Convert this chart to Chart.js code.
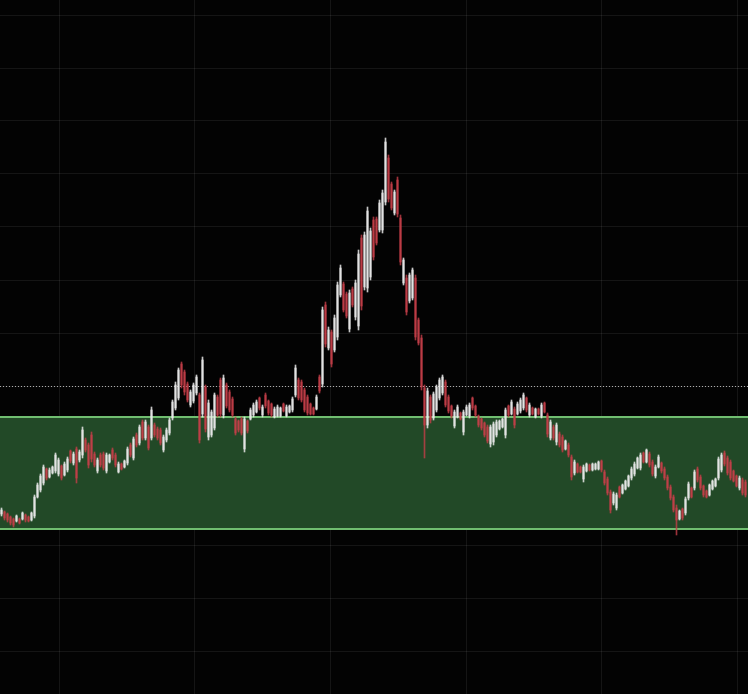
<!DOCTYPE html>
<html>
<head>
<meta charset="utf-8">
<script src="https://cdn.jsdelivr.net/npm/chart.js@4"></script>
<style>
  html, body { margin: 0; padding: 0; background: #030303; }
  #wrap { width: 748px; height: 694px; position: relative; }
</style>
</head>
<body>
<div id="wrap"><canvas id="c" width="748" height="694"></canvas></div>
<script>
// ---- data (price units) ----
const opens = [186,188,186,183,181,179,181,181,185,183,180,184,203,210,217,231,223,227,229,226,234,225,230,249,237,251,240,245,260,255,265,246,229,245,246,229,238,250,245,228,236,233,237,255,242,265,257,278,262,273,262,275,271,270,250,260,267,282,292,302,336,328,316,295,299,307,305,286,313,263,265,272,303,320,285,315,308,301,281,279,281,251,279,281,285,288,302,285,305,299,296,283,284,284,296,284,288,290,305,320,318,310,303,296,292,291,323,316,395,352,368,350,363,405,416,406,371,411,383,374,462,413,412,423,480,481,470,470,498,542,516,487,520,482,417,422,399,402,422,380,362,312,275,303,282,290,302,307,318,303,294,274,283,287,268,285,284,302,294,284,281,277,273,256,258,265,271,273,265,294,286,291,286,289,292,302,285,292,283,291,284,297,285,262,273,258,266,263,251,255,243,227,236,233,221,229,235,230,231,231,239,228,221,208,197,192,213,207,211,214,222,226,232,232,247,238,246,238,224,233,237,231,223,213,203,192,181,191,187,202,212,212,231,223,214,209,205,211,214,222,230,247,242,238,229,224,212,220,218];
const highs = [192,189,187,184,182,185,182,188,186,184,188,205,217,226,235,232,232,234,247,242,235,238,243,250,248,253,250,273,262,257,268,248,242,247,248,247,246,252,247,238,237,240,253,257,263,267,275,280,280,275,293,277,273,272,265,272,282,300,318,332,338,330,318,310,317,325,307,343,315,300,290,307,305,322,325,317,310,303,283,280,283,283,280,292,297,300,303,295,307,300,297,293,295,293,297,295,295,303,335,322,320,312,305,297,293,305,325,393,398,373,370,385,418,435,418,408,410,413,420,450,465,468,493,472,483,483,500,510,562,545,518,510,523,485,442,425,427,432,425,382,365,315,312,305,308,315,322,325,320,305,295,290,295,288,290,295,297,303,295,285,282,278,275,275,278,280,280,282,292,295,300,293,298,302,307,303,297,293,292,292,297,298,287,280,275,277,268,265,260,257,245,240,237,234,235,237,236,237,237,239,240,230,223,210,208,207,214,216,220,225,233,238,243,247,248,251,248,240,235,245,238,233,225,215,205,195,190,192,203,218,213,230,233,225,215,210,216,220,222,243,247,249,244,240,230,225,224,222,220];
const lows = [184,180,178,175,173,178,176,180,178,178,179,182,202,208,215,220,222,226,227,224,220,224,228,237,235,217,238,242,248,232,238,233,227,233,230,227,237,240,233,227,230,232,235,243,240,253,255,260,260,250,260,263,260,255,248,258,265,280,290,300,312,305,298,293,297,305,257,283,268,260,263,270,283,283,282,292,288,283,265,268,265,248,267,280,283,287,290,283,292,285,283,282,283,283,288,283,287,288,303,300,298,288,285,285,285,290,307,313,353,350,333,348,360,403,388,382,368,393,380,370,390,410,408,420,440,455,468,467,495,498,490,485,483,435,415,385,397,400,360,355,310,242,272,277,280,288,300,305,293,287,282,272,282,280,265,284,282,290,283,273,270,263,257,253,255,263,270,272,262,283,285,272,285,287,290,288,283,285,282,285,282,287,263,260,260,255,253,248,250,243,220,225,227,227,218,228,229,229,230,230,228,215,205,187,195,190,202,206,210,213,220,224,231,230,237,237,233,224,222,232,227,220,210,200,188,165,180,180,185,200,202,210,218,210,203,202,204,210,213,220,228,234,225,220,218,213,210,205,203];
const closes = [190,182,180,177,175,184,177,187,180,179,187,203,215,224,233,222,230,233,245,240,222,236,241,239,246,222,248,270,250,235,241,235,240,235,232,245,245,242,235,236,231,239,251,245,261,255,273,262,278,252,290,265,262,257,263,270,280,298,315,330,315,308,300,308,315,323,260,340,271,297,288,305,285,286,322,294,290,285,267,270,267,281,269,290,295,298,292,293,294,287,285,291,293,292,289,293,294,301,332,302,300,290,287,286,286,303,309,390,356,370,336,382,415,432,390,384,407,395,417,446,394,465,489,469,443,457,497,507,558,501,492,508,486,438,440,388,425,430,363,357,313,275,309,280,306,313,320,323,295,289,284,288,293,281,288,293,295,292,285,275,272,265,259,273,276,278,279,281,290,285,298,275,296,300,305,290,295,286,291,286,295,288,266,278,262,275,255,250,259,245,223,238,228,228,233,236,230,236,236,238,230,217,207,190,206,205,203,215,219,224,231,236,242,245,238,250,235,226,233,243,229,222,212,202,190,180,189,182,201,216,203,228,220,212,205,203,215,219,221,241,245,236,227,222,219,214,222,207,205];

// reference levels drawn over the chart
const bandRange = [171, 283];   // shaded zone (low, high)
const refLevel = 314;           // dotted horizontal level

// ---- layout constants (not data) ----
const Y_MIN = 6, Y_MAX = 700, Y_GRID_START = 49, Y_GRID_STEP = 53;
const X_MIN = -0.5, X_MAX = 248.833, X_GRID_START = 19.17, X_GRID_STEP = 45.23;

const UP = 'rgba(232,232,232,0.85)';
const DOWN = 'rgba(196,62,72,0.8)';
const colorAt = i => closes[i] >= opens[i] ? UP : DOWN;

const idx = opens.map((_, i) => i);
const wickData = idx.map(i => ({ x: i, y: [lows[i], highs[i]] }));
const bodyData = idx.map(i => ({ x: i, y: [opens[i], closes[i]] }));

const bgPlugin = {
  id: 'bg',
  beforeDraw(chart) {
    const c = chart.ctx;
    c.save();
    c.fillStyle = '#030303';
    c.fillRect(0, 0, chart.width, chart.height);
    c.restore();
  }
};

const zonePlugin = {
  id: 'zone',
  beforeDatasetsDraw(chart) {
    const c = chart.ctx, a = chart.chartArea, y = chart.scales.y;
    const top = y.getPixelForValue(bandRange[1]);
    const bot = y.getPixelForValue(bandRange[0]);
    c.save();
    c.fillStyle = 'rgb(34,73,39)';
    c.fillRect(a.left, top, a.right - a.left, bot - top);
    c.strokeStyle = 'rgb(112,190,112)';
    c.lineWidth = 2;
    c.beginPath();
    c.moveTo(a.left, top); c.lineTo(a.right, top);
    c.moveTo(a.left, bot); c.lineTo(a.right, bot);
    c.stroke();
    const ry = Math.round(y.getPixelForValue(refLevel)) + 0.5;
    c.strokeStyle = 'rgba(190,190,190,0.9)';
    c.lineWidth = 1;
    c.setLineDash([1, 2]);
    c.beginPath();
    c.moveTo(a.left, ry); c.lineTo(a.right, ry);
    c.stroke();
    c.restore();
  }
};

new Chart(document.getElementById('c'), {
  type: 'bar',
  data: {
    datasets: [
      { label: 'wick', data: wickData, barThickness: 1, grouped: false,
        backgroundColor: ctx => colorAt(ctx.dataIndex), borderWidth: 0, borderSkipped: false },
      { label: 'body', data: bodyData, barThickness: 1.6, grouped: false,
        backgroundColor: ctx => colorAt(ctx.dataIndex), borderWidth: 0, borderSkipped: false }
    ]
  },
  options: {
    responsive: false,
    animation: false,
    layout: { padding: 0 },
    plugins: { legend: { display: false }, tooltip: { enabled: false } },
    scales: {
      x: {
        type: 'linear', min: X_MIN, max: X_MAX, offset: false,
        ticks: { display: false },
        grid: { color: 'rgba(255,255,255,0.075)', drawTicks: false, lineWidth: 1, offset: false },
        border: { display: false },
        afterBuildTicks: s => {
          const t = [];
          for (let v = X_GRID_START; v < X_MAX; v += X_GRID_STEP) t.push({ value: v });
          s.ticks = t;
        }
      },
      y: {
        type: 'linear', min: Y_MIN, max: Y_MAX,
        ticks: { display: false },
        grid: { color: 'rgba(255,255,255,0.075)', drawTicks: false, lineWidth: 1 },
        border: { display: false },
        afterBuildTicks: s => {
          const t = [];
          for (let v = Y_GRID_START; v < Y_MAX; v += Y_GRID_STEP) t.push({ value: v });
          s.ticks = t;
        }
      }
    }
  },
  plugins: [bgPlugin, zonePlugin]
});
</script>
</body>
</html>
